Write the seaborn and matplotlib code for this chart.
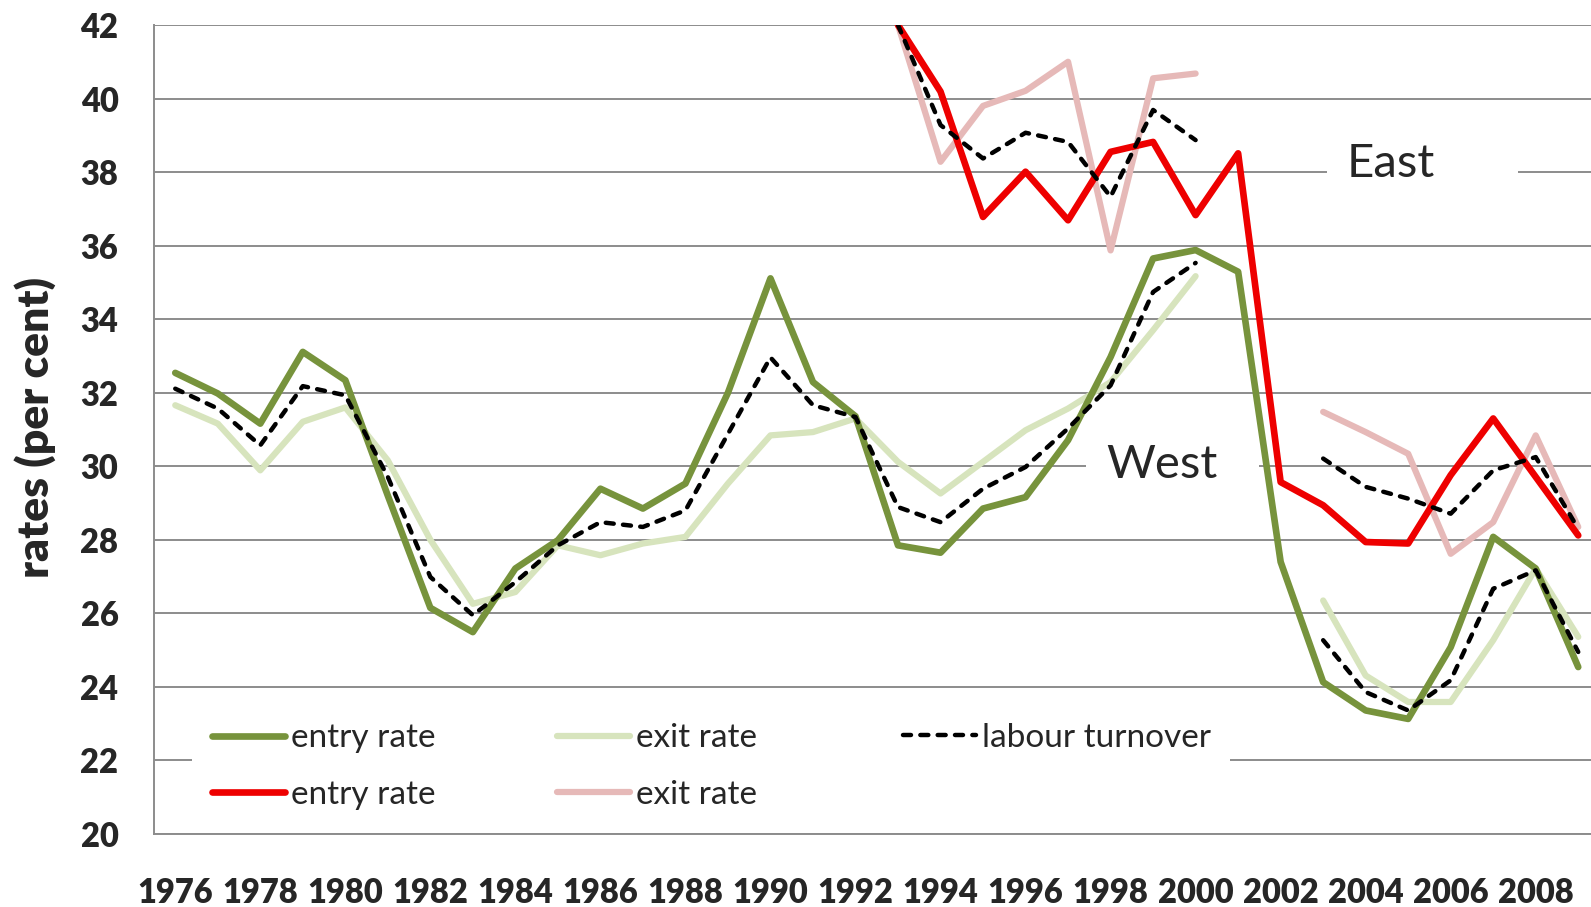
import numpy as np
import pandas as pd
import matplotlib
matplotlib.use("Agg")
import matplotlib.pyplot as plt
from matplotlib.lines import Line2D
from matplotlib.patches import Rectangle
import seaborn as sns

nan = np.nan
years = list(range(1976, 2010))

west_entry = [32.54, 31.98, 31.16, 33.11, 32.34, 29.2, 26.15, 25.49, 27.22, 27.99,
              29.39, 28.85, 29.53, 32.0, 35.11, 32.29, 31.36, 27.85, 27.65, 28.85,
              29.16, 30.71, 32.97, 35.65, 35.88, 35.29, 27.4, 24.13, 23.36, 23.13,
              25.08, 28.08, 27.22, 24.54]
west_exit = [31.66, 31.16, 29.89, 31.21, 31.6, 30.16, 28.0, 26.26, 26.58, 27.85,
             27.58, 27.9, 28.08, 29.53, 30.84, 30.93, 31.3, 30.12, 29.26, 30.12,
             30.98, 31.57, 32.29, 33.7, 35.17, nan, nan, 26.35, 24.31, 23.59,
             23.59, 25.27, 27.22, 25.36]
west_turnover = [32.11, 31.57, 30.57, 32.18, 31.93, 29.71, 26.99, 25.95, 26.85, 27.85,
                 28.48, 28.35, 28.8, 30.88, 32.96, 31.66, 31.34, 28.89, 28.48, 29.39,
                 29.98, 31.03, 32.2, 34.74, 35.53, nan, nan, 25.27, 23.86, 23.36,
                 24.18, 26.67, 27.17, 24.95]
east_entry = [nan] * 17 + [42.0, 40.19, 36.78, 38.01, 36.69, 38.55, 38.82, 36.83, 38.51,
                           29.57, 28.94, 27.94, 27.9, 29.76, 31.3, 29.71, 28.12]
east_exit = [nan] * 17 + [42.0, 38.28, 39.8, 40.21, 41.0, 35.87, 40.55, 40.68, nan,
                          nan, 31.48, 30.93, 30.34, 27.62, 28.48, 30.84, 28.35]
east_turnover = [nan] * 17 + [42.0, 39.28, 38.37, 39.07, 38.82, 37.33, 39.69, 38.87, nan,
                              nan, 30.21, 29.44, 29.12, 28.71, 29.89, 30.25, 28.3]

DARK_GREEN = "#77933C"
LIGHT_GREEN = "#D7E4BD"
RED = "#EE0000"
PINK = "#E6B9B8"
GRID = "#8C8C8C"

sns.set_style("white")
plt.rcParams["font.family"] = ["Lato", "DejaVu Sans"]

W, H = 1591, 907
fig = plt.figure(figsize=(W / 100, H / 100), dpi=100)
# axis from x=154 to 1599.5 px (runs a little past the right edge, as in the original)
ax = fig.add_axes([154 / W, 73 / H, 1445.5 / W, 809 / H])

idx = np.arange(len(years))
dash = (0, (1.8, 2.1))
LW_ENTRY, LW_EXIT, LW_TURN = 4.8, 4.5, 3.2


def draw(vals, color, lw, ls="-", z=2):
    df = pd.DataFrame({"x": idx, "y": vals})
    df["seg"] = df["y"].isna().cumsum()
    df = df.dropna()
    sns.lineplot(data=df, x="x", y="y", units="seg", estimator=None, sort=False,
                 color=color, lw=lw, linestyle=ls, ax=ax, legend=False,
                 solid_capstyle="round", dash_capstyle="round", zorder=z)


draw(west_exit, LIGHT_GREEN, LW_EXIT)
draw(west_entry, DARK_GREEN, LW_ENTRY)
draw(east_exit, PINK, LW_EXIT)
draw(east_entry, RED, LW_ENTRY)
draw(west_turnover, "black", LW_TURN, dash, z=3)
draw(east_turnover, "black", LW_TURN, dash, z=3)

ax.set_xlim(-0.5, len(years) - 0.5)
ax.set_ylim(20, 42)
ax.set_xlabel("")
ax.set_ylabel("")

ax.set_axisbelow(True)
ax.set_yticks(np.arange(20, 43, 2))
ax.yaxis.grid(True, color=GRID, lw=1.4)
ax.xaxis.grid(False)

ax.set_xticks(np.arange(-0.5, len(years), 1))
ax.set_xticklabels([])
ax.set_xticks(idx[::2], minor=True)
ax.set_xticklabels([str(y) for y in years[::2]], minor=True)

ax.tick_params(axis="both", which="major", direction="out", length=8.6, width=1.1,
               color=GRID, labelsize=23.5)
ax.tick_params(axis="y", pad=17)
ax.tick_params(axis="x", which="minor", length=0, pad=31, labelsize=23.5)
for lab in ax.get_yticklabels() + ax.get_xticklabels(minor=True):
    lab.set_fontweight("heavy")

for s in ["top", "right"]:
    ax.spines[s].set_visible(False)
for s in ["left", "bottom"]:
    ax.spines[s].set_color(GRID)
    ax.spines[s].set_linewidth(1.4)

fig.text(35 / W, 1 - 427 / H, "rates (per cent)", rotation=90, ha="center",
         va="center", fontsize=32, fontweight="heavy")

# white boxes that break the gridlines behind the labels and legend
ax.add_patch(Rectangle((21.43, 29.5), 4.05, 1.0, facecolor="white", edgecolor="none", zorder=1))
ax.add_patch(Rectangle((27.08, 37.5), 4.5, 1.0, facecolor="white", edgecolor="none", zorder=1))
ax.add_patch(Rectangle((0.39, 20.1), 24.43, 3.4, facecolor="white", edgecolor="none", zorder=1))

ax.text(23.2, 29.67, "West", fontsize=34, ha="center", va="baseline", zorder=1.5)
ax.text(28.6, 37.86, "East", fontsize=34, ha="center", va="baseline", zorder=1.5)

# legend: three equal-width columns like the original
lw_leg = dict(solid_capstyle="round", dash_capstyle="round")
col1 = [Line2D([], [], color=DARK_GREEN, lw=LW_ENTRY, **lw_leg),
        Line2D([], [], color=RED, lw=LW_ENTRY, **lw_leg)]
col2 = [Line2D([], [], color=LIGHT_GREEN, lw=LW_EXIT, **lw_leg),
        Line2D([], [], color=PINK, lw=LW_EXIT, **lw_leg)]
col3 = [Line2D([], [], color="black", lw=LW_TURN, linestyle=dash, **lw_leg)]
leg_kw = dict(frameon=False, fontsize=24, handlelength=2.2, handletextpad=0.18,
              labelspacing=0.8, borderpad=0, borderaxespad=0,
              bbox_transform=fig.transFigure)
row_mid = (738 + 795.5) / 2
l1 = ax.legend(col1, ["entry rate", "entry rate"], loc="center left",
               bbox_to_anchor=(212 / W, 1 - row_mid / H), **leg_kw)
ax.add_artist(l1)
l2 = ax.legend(col2, ["exit rate", "exit rate"], loc="center left",
               bbox_to_anchor=(557 / W, 1 - row_mid / H), **leg_kw)
ax.add_artist(l2)
ax.legend(col3, ["labour turnover"], loc="center left",
          bbox_to_anchor=(903 / W, 1 - 738 / H), **leg_kw)

fig.savefig("out.png", dpi=100)
